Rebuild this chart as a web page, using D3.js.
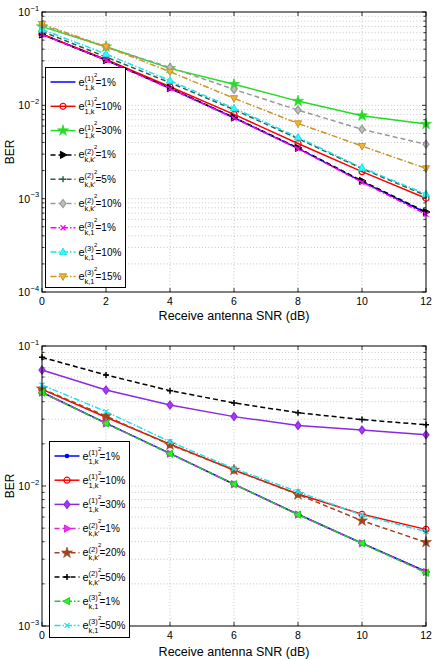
<!DOCTYPE html>
<html>
<head>
<meta charset="utf-8">
<script src="https://cdn.jsdelivr.net/npm/d3@7"></script>
<style>
  body { margin: 0; background: #fff; }
  svg { font-family: "Liberation Sans", Arial, Helvetica, sans-serif; }
</style>
</head>
<body>
<div id="chart"></div>
<script>
const width = 433;
const height = 659;

const snr = [0, 2, 4, 6, 8, 10, 12];

// top panel
const top_e1_1 = [0.0577, 0.0306, 0.0152, 0.00736, 0.00346, 0.00152, 0.000706];
const top_e1_10 = [0.058, 0.031, 0.0158, 0.0080, 0.0039, 0.00195, 0.00101];
const top_e1_30 = [0.0697, 0.0425, 0.0249, 0.0168, 0.0111, 0.00775, 0.0063];
const top_e2_1 = [0.0575, 0.0305, 0.0153, 0.0074, 0.0035, 0.00155, 0.00072];
const top_e2_5 = [0.062, 0.033, 0.0175, 0.009, 0.0044, 0.0021, 0.00108];
const top_e2_10 = [0.072, 0.042, 0.0255, 0.0148, 0.0089, 0.00553, 0.00382];
const top_e3_1 = [0.0575, 0.0304, 0.0151, 0.0073, 0.00344, 0.0015, 0.00068];
const top_e3_10 = [0.065, 0.0355, 0.0184, 0.0093, 0.00454, 0.00214, 0.00112];
const top_e3_15 = [0.0743, 0.0425, 0.0229, 0.0119, 0.0064, 0.00366, 0.00211];

// bottom panel
const bot_e1_1 = [0.0467, 0.0281, 0.0171, 0.0103, 0.00628, 0.0039, 0.00245];
const bot_e1_10 = [0.049, 0.031, 0.0199, 0.0130, 0.00877, 0.00628, 0.0049];
const bot_e1_30 = [0.0674, 0.0485, 0.0379, 0.0313, 0.0271, 0.0251, 0.0232];
const bot_e2_1 = [0.0465, 0.028, 0.017, 0.0103, 0.00625, 0.0039, 0.00243];
const bot_e2_20 = [0.0495, 0.0316, 0.0197, 0.0130, 0.0087, 0.00565, 0.00396];
const bot_e2_50 = [0.083, 0.0621, 0.048, 0.0392, 0.0334, 0.0298, 0.0274];
const bot_e3_1 = [0.0465, 0.028, 0.017, 0.0103, 0.00625, 0.0039, 0.0024];
const bot_e3_50 = [0.0527, 0.034, 0.0207, 0.0133, 0.0091, 0.0062, 0.00472];

const xTicks = [0, 2, 4, 6, 8, 10, 12];

const dashed = "5,3";
const dashdot = "6,2,1.5,2";

const topSeries = [
    { values: top_e1_1, sup: "(1)", sub: "1,k", label: "=1%", color: "#0000ff", dash: null, marker: "none" },
    { values: top_e1_10, sup: "(1)", sub: "1,k", label: "=10%", color: "#ff0000", dash: null, marker: "circle" },
    { values: top_e1_30, sup: "(1)", sub: "1,k", label: "=30%", color: "#22dd22", dash: null, marker: "star" },
    { values: top_e2_1, sup: "(2)", sub: "k,k'", label: "=1%", color: "#000000", dash: dashed, marker: "triRight" },
    { values: top_e2_5, sup: "(2)", sub: "k,k'", label: "=5%", color: "#2f5f4f", dash: dashed, marker: "plus" },
    { values: top_e2_10, sup: "(2)", sub: "k,k'", label: "=10%", color: "#999999", dash: dashed, marker: "diamond" },
    { values: top_e3_1, sup: "(3)", sub: "k,1", label: "=1%", color: "#ff00ff", dash: dashdot, marker: "x" },
    { values: top_e3_10, sup: "(3)", sub: "k,1", label: "=10%", color: "#22e0e8", dash: dashdot, marker: "triUp" },
    { values: top_e3_15, sup: "(3)", sub: "k,1", label: "=15%", color: "#c8962a", dash: dashdot, marker: "triDown" }
];

const botSeries = [
    { values: bot_e1_1, sup: "(1)", sub: "1,k", label: "=1%", color: "#0000ff", dash: null, marker: "dot" },
    { values: bot_e1_10, sup: "(1)", sub: "1,k", label: "=10%", color: "#ff0000", dash: null, marker: "circle" },
    { values: bot_e1_30, sup: "(1)", sub: "1,k", label: "=30%", color: "#8a2be2", dash: null, marker: "diamond" },
    { values: bot_e2_1, sup: "(2)", sub: "k,k'", label: "=1%", color: "#dd22dd", dash: dashed, marker: "triRight" },
    { values: bot_e2_20, sup: "(2)", sub: "k,k'", label: "=20%", color: "#a0461e", dash: dashed, marker: "star" },
    { values: bot_e2_50, sup: "(2)", sub: "k,k'", label: "=50%", color: "#000000", dash: dashed, marker: "plus" },
    { values: bot_e3_1, sup: "(3)", sub: "k,1", label: "=1%", color: "#22cc22", dash: dashdot, marker: "triLeft" },
    { values: bot_e3_50, sup: "(3)", sub: "k,1", label: "=50%", color: "#22e0e8", dash: dashdot, marker: "x" }
];

const svg = d3.select("#chart").append("svg")
    .attr("width", width)
    .attr("height", height);

function drawMarker(g, type, cx, cy, color) {
    if (type === "none") return;
    const m = g.append("g").attr("transform", `translate(${cx},${cy})`);
    if (type === "circle") {
        m.append("circle").attr("r", 3).attr("fill", "none").attr("stroke", color).attr("stroke-width", 1.2);
    } else if (type === "dot") {
        m.append("circle").attr("r", 2.3).attr("fill", color);
    } else if (type === "star") {
        m.append("path").attr("d", d3.symbol(d3.symbolStar, 38)()).attr("fill", color).attr("stroke", color).attr("stroke-width", 0.6);
    } else if (type === "diamond") {
        m.append("path").attr("d", "M0,-4L3,0L0,4L-3,0Z").attr("fill", d3.color(color).brighter(0.6)).attr("stroke", color).attr("stroke-width", 1.2);
    } else if (type === "plus") {
        m.append("path").attr("d", "M-3,0H3M0,-3V3").attr("stroke", color).attr("stroke-width", 1.5);
    } else if (type === "x") {
        m.append("path").attr("d", "M-2.5,-2.5L2.5,2.5M-2.5,2.5L2.5,-2.5").attr("stroke", color).attr("stroke-width", 1.3);
    } else {
        const rot = { triUp: 0, triDown: 180, triRight: 90, triLeft: -90 }[type];
        const fill = type === "triRight" && color === "#000000" ? color : d3.color(color).brighter(0.5);
        m.append("path").attr("d", "M0,-4L3.6,2.6L-3.6,2.6Z")
            .attr("transform", `rotate(${rot})`)
            .attr("fill", fill).attr("stroke", color).attr("stroke-width", 1);
    }
}

function drawPanel(cfg) {
    const x = d3.scaleLinear().domain([0, 12]).range([42, 426]);
    const y = d3.scaleLog().domain(cfg.domain).range([cfg.bottom, cfg.top]);
    const g = svg.append("g");
    const [lo, hi] = cfg.domain;

    // grid
    const minor = [];
    for (let e = Math.log10(lo); e < Math.log10(hi); e++) {
        for (let k = 1; k < 10; k++) minor.push(k * Math.pow(10, e));
    }
    minor.push(hi);
    g.append("g").selectAll("line").data(minor.filter(v => v > lo && v < hi)).join("line")
        .attr("x1", 42).attr("x2", 426)
        .attr("y1", d => y(d)).attr("y2", d => y(d))
        .attr("stroke", "#b8b8b8").attr("stroke-width", 0.8).attr("stroke-dasharray", "1,2.2");
    g.append("g").selectAll("line").data(xTicks.slice(1, -1)).join("line")
        .attr("x1", d => x(d)).attr("x2", d => x(d))
        .attr("y1", cfg.top).attr("y2", cfg.bottom)
        .attr("stroke", "#b8b8b8").attr("stroke-width", 0.8).attr("stroke-dasharray", "1,2.2");

    // ticks
    const tk = g.append("g").attr("stroke", "#000").attr("stroke-width", 0.8);
    xTicks.forEach(t => {
        tk.append("line").attr("x1", x(t)).attr("x2", x(t)).attr("y1", cfg.bottom).attr("y2", cfg.bottom - 4);
        tk.append("line").attr("x1", x(t)).attr("x2", x(t)).attr("y1", cfg.top).attr("y2", cfg.top + 4);
    });
    minor.forEach(v => {
        const major = Math.abs(Math.log10(v) - Math.round(Math.log10(v))) < 1e-9;
        const len = major ? 4 : 2.5;
        tk.append("line").attr("x1", 42).attr("x2", 42 + len).attr("y1", y(v)).attr("y2", y(v));
        tk.append("line").attr("x1", 426).attr("x2", 426 - len).attr("y1", y(v)).attr("y2", y(v));
    });

    // tick labels (x labels hidden by the legend are left out, as in the source)
    g.append("g").selectAll("text").data(xTicks.filter(t => !(cfg.hideX || []).includes(t))).join("text")
        .attr("x", d => x(d)).attr("y", cfg.bottom + 13)
        .attr("text-anchor", "middle").attr("font-size", 10.5).text(d => d);
    const decades = minor.filter(v => Math.abs(Math.log10(v) - Math.round(Math.log10(v))) < 1e-9);
    decades.forEach(v => {
        const e = Math.round(Math.log10(v));
        g.append("text").attr("x", 30).attr("y", y(v) + 4).attr("text-anchor", "end")
            .attr("font-size", 10.5).text("10");
        g.append("text").attr("x", 30.5).attr("y", y(v) - 1.5)
            .attr("font-size", 7.5).text("\u2212" + Math.abs(e));
    });

    // series
    const line = d3.line().x((d, i) => x(snr[i])).y(d => y(d));
    cfg.series.forEach(s => {
        g.append("path").datum(s.values)
            .attr("d", line).attr("fill", "none")
            .attr("stroke", s.color).attr("stroke-width", 1.5)
            .attr("stroke-dasharray", s.dash);
        s.values.forEach((v, i) => drawMarker(g, s.marker, x(snr[i]), y(v), s.color));
    });

    // box
    g.append("rect").attr("x", 42).attr("y", cfg.top).attr("width", 384).attr("height", cfg.bottom - cfg.top)
        .attr("fill", "none").attr("stroke", "#000").attr("stroke-width", 1);

    // axis labels
    g.append("text").attr("x", 234).attr("y", cfg.labelY).attr("text-anchor", "middle")
        .attr("font-size", 12.5).text("Receive antenna SNR (dB)");
    g.append("text").attr("transform", `translate(14,${(cfg.top + cfg.bottom) / 2}) rotate(-90)`)
        .attr("text-anchor", "middle").attr("font-size", 12).text("BER");

    // legend
    const L = cfg.legend;
    const lg = g.append("g");
    lg.append("rect").attr("x", L.x).attr("y", L.y).attr("width", L.w).attr("height", L.h)
        .attr("fill", "#fff").attr("stroke", "#000").attr("stroke-width", 1);
    cfg.series.forEach((s, i) => {
        const yc = L.first + i * L.step;
        lg.append("line").attr("x1", L.x + 5).attr("x2", L.x + 30).attr("y1", yc).attr("y2", yc)
            .attr("stroke", s.color).attr("stroke-width", 1.5).attr("stroke-dasharray", s.dash);
        drawMarker(lg, s.marker, L.x + 17.5, yc, s.color);
        const tx = L.x + 33;
        lg.append("text").attr("x", tx).attr("y", yc + 3.5).attr("font-size", 11).text("e");
        lg.append("text").attr("x", tx + 6).attr("y", yc - 1).attr("font-size", 7.5).text(s.sup);
        lg.append("text").attr("x", tx + 15.5).attr("y", yc - 5.5).attr("font-size", 6).text("2");
        lg.append("text").attr("x", tx + 6).attr("y", yc + 7.5).attr("font-size", 7.5).text(s.sub);
        lg.append("text").attr("x", tx + 17).attr("y", yc + 3.5).attr("font-size", 10).text(s.label);
    });
}

drawPanel({
    top: 12, bottom: 292, domain: [1e-4, 1e-1], series: topSeries, labelY: 320,
    legend: { x: 45.5, y: 67.5, w: 80, h: 220, first: 82, step: 24.3 }
});

drawPanel({
    top: 346, bottom: 626, domain: [1e-3, 1e-1], series: botSeries, labelY: 656, hideX: [2],
    legend: { x: 49.5, y: 441.5, w: 80, h: 196, first: 456, step: 24.2 }
});
</script>
</body>
</html>
